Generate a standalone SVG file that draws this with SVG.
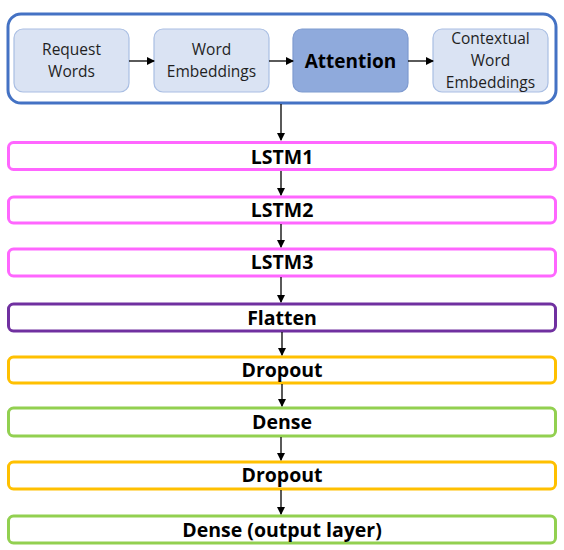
<svg xmlns="http://www.w3.org/2000/svg" width="564" height="550" viewBox="0 0 564 550">
  <style>
    .lbl { font-family: "Open Sans", Lato, "Liberation Sans", sans-serif; fill: #000; text-anchor: middle; }
    .inner { font-size: 15.5px; fill: #1f1f1f; }
    .layer { font-size: 19.5px; font-weight: bold; }
    .step { fill: #DAE3F3; stroke: #A9BEE3; stroke-width: 1.2; }
    .layerbox { fill: #fff; stroke-width: 3; }
    .conn { stroke: #000; stroke-width: 1.3; fill: none; marker-end: url(#arr); }
  </style>
  <defs>
    <marker id="arr" markerWidth="8" markerHeight="8" refX="7" refY="4" orient="auto" markerUnits="userSpaceOnUse">
      <path d="M0,0 L8,4 L0,8 Z" fill="#000"/>
    </marker>
  </defs>
  <rect width="564" height="550" fill="#fff"/>

  <!-- embedding pipeline -->
  <g id="pipeline">
    <rect x="8" y="14" width="548" height="89" rx="13" fill="#fff" stroke="#4472C4" stroke-width="3"/>
  </g>
  <g id="request-words">
    <rect class="step" x="14" y="29" width="115" height="63" rx="9"/>
    <text class="lbl inner" x="71.5" y="55">Request</text>
    <text class="lbl inner" x="71.5" y="77">Words</text>
  </g>
  <g id="word-embeddings">
    <rect class="step" x="154" y="29" width="115" height="63" rx="9"/>
    <text class="lbl inner" x="211.5" y="55">Word</text>
    <text class="lbl inner" x="211.5" y="77">Embeddings</text>
  </g>
  <g id="attention">
    <rect x="293" y="29" width="115" height="63" rx="9" fill="#8FAADC" stroke="#7F9BD0" stroke-width="1.2"/>
    <text class="lbl" x="350.5" y="68" font-size="19" font-weight="bold">Attention</text>
  </g>
  <g id="contextual-embeddings">
    <rect class="step" x="433" y="29" width="115" height="63" rx="9"/>
    <text class="lbl inner" x="490.5" y="44">Contextual</text>
    <text class="lbl inner" x="490.5" y="66">Word</text>
    <text class="lbl inner" x="490.5" y="88">Embeddings</text>
  </g>

  <!-- layer stack -->
  <g id="lstm1">
    <rect class="layerbox" x="8.5" y="142.5" width="547" height="27" rx="5" stroke="#FF66FF"/>
    <text class="lbl layer" x="282" y="164">LSTM1</text>
  </g>
  <g id="lstm2">
    <rect class="layerbox" x="8.5" y="197" width="547" height="26" rx="5" stroke="#FF66FF"/>
    <text class="lbl layer" x="282" y="217">LSTM2</text>
  </g>
  <g id="lstm3">
    <rect class="layerbox" x="8.5" y="249" width="547" height="27" rx="5" stroke="#FF66FF"/>
    <text class="lbl layer" x="282" y="269">LSTM3</text>
  </g>
  <g id="flatten">
    <rect class="layerbox" x="8.5" y="304" width="547" height="27" rx="5" stroke="#7030A0"/>
    <text class="lbl layer" x="282" y="325">Flatten</text>
  </g>
  <g id="dropout1">
    <rect class="layerbox" x="8.5" y="357" width="547" height="26" rx="5" stroke="#FFC000"/>
    <text class="lbl layer" x="282" y="377">Dropout</text>
  </g>
  <g id="dense1">
    <rect class="layerbox" x="8.5" y="408" width="547" height="28" rx="5" stroke="#92D050"/>
    <text class="lbl layer" x="282" y="429">Dense</text>
  </g>
  <g id="dropout2">
    <rect class="layerbox" x="8.5" y="462" width="547" height="27" rx="5" stroke="#FFC000"/>
    <text class="lbl layer" x="282" y="482">Dropout</text>
  </g>
  <g id="dense-output">
    <rect class="layerbox" x="8.5" y="516" width="547" height="27" rx="5" stroke="#92D050"/>
    <text class="lbl layer" x="282" y="537">Dense (output layer)</text>
  </g>

  <!-- connectors -->
  <g id="connectors">
    <line class="conn" x1="129" y1="61" x2="154" y2="61"/>
    <line class="conn" x1="269" y1="61" x2="293" y2="61"/>
    <line class="conn" x1="408" y1="61" x2="433" y2="61"/>
    <line class="conn" x1="281" y1="104" x2="281" y2="140"/>
    <line class="conn" x1="281" y1="171" x2="281" y2="195"/>
    <line class="conn" x1="281" y1="224" x2="281" y2="247"/>
    <line class="conn" x1="281" y1="277" x2="281" y2="302"/>
    <line class="conn" x1="282" y1="332" x2="282" y2="355"/>
    <line class="conn" x1="282" y1="384" x2="282" y2="406"/>
    <line class="conn" x1="281" y1="437" x2="281" y2="460"/>
    <line class="conn" x1="281" y1="490" x2="281" y2="514"/>
  </g>
</svg>
